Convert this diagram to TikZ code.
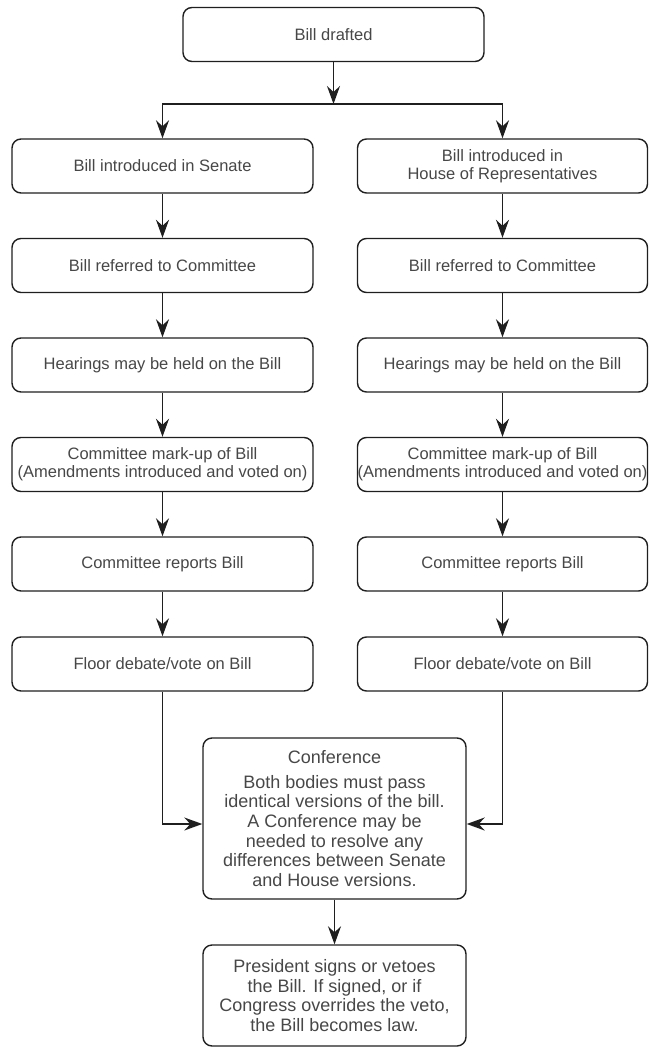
\documentclass[tikz,border=0pt]{standalone}
\usepackage{fontspec}
\setmainfont{Liberation Sans}
\usetikzlibrary{arrows.meta}
\newcommand{\stageFont}[0]{\fontsize{16.5}{18.4}\selectfont}
\newcommand{\finalFont}[0]{\fontsize{18}{19.6}\selectfont}

\begin{document}
\begin{tikzpicture}[x=1pt, y=-1pt]
  \tikzset{stage/.style={draw=black!88, line width=1.4pt, rounded corners=9pt,
      align=center, inner xsep=0pt, inner ysep=2pt, text=black!72,
      font=\stageFont, minimum height=54pt},
    senate/.style={stage, minimum width=301pt},
    house/.style={stage, minimum width=290pt},
    final/.style={stage, font=\finalFont, minimum width=263pt},
    flow/.style={draw=black!88, line width=1.4pt,
      -{Stealth[length=18pt,width=13pt,inset=6pt]}}}
  \useasboundingbox (0,0) rectangle (648,1048);
  \node[senate] (draft) at (333.5,34.5) {Bill drafted};
  \coordinate (split) at (333.5,104);
  % Senate side
  \node[senate] (s1) at (162.5,166)   {Bill introduced in Senate};
  \node[senate] (s2) at (162.5,265.5) {Bill referred to Committee};
  \node[senate] (s3) at (162.5,365)   {Hearings may be held on the Bill};
  \node[senate] (s4) at (162.5,464.5) {Committee mark-up of Bill\\(Amendments introduced and voted on)};
  \node[senate] (s5) at (162.5,564)   {Committee reports Bill};
  \node[senate] (s6) at (162.5,664)   {Floor debate/vote on Bill};
  % House side
  \node[house] (h1) at (502.5,166)   {Bill introduced in\\House of Representatives};
  \node[house] (h2) at (502.5,265.5) {Bill referred to Committee};
  \node[house] (h3) at (502.5,365)   {Hearings may be held on the Bill};
  \node[house] (h4) at (502.5,464.5) {Committee mark-up of Bill\\(Amendments introduced and voted on)};
  \node[house] (h5) at (502.5,564)   {Committee reports Bill};
  \node[house] (h6) at (502.5,664)   {Floor debate/vote on Bill};
  % both houses meet
  \node[final, minimum height=161pt] (conf) at (334.5,818.5)
    {Conference\\[5pt]Both bodies must pass\\identical versions of the bill.\\A Conference may be\\needed to resolve any\\differences between Senate\\and House versions.};
  \node[final, minimum height=101pt] (law) at (334.5,995.5)
    {President signs or vetoes\\the Bill. If signed, or if\\Congress overrides the veto,\\the Bill becomes law.};
  \draw[flow] (draft) -- (split);
  \draw[flow] (split) -| (s1.north);
  \draw[flow] (split) -| (h1.north);
  \foreach \a/\b in {1/2,2/3,3/4,4/5,5/6} {
    \draw[flow] (s\a) -- (s\b);
    \draw[flow] (h\a) -- (h\b);
  }
  \draw[flow] (s6.south) |- ([yshift=-5.5pt]conf.west);
  \draw[flow] (h6.south) |- ([yshift=-5.5pt]conf.east);
  \draw[flow] (conf) -- (law);
\end{tikzpicture}
\end{document}
